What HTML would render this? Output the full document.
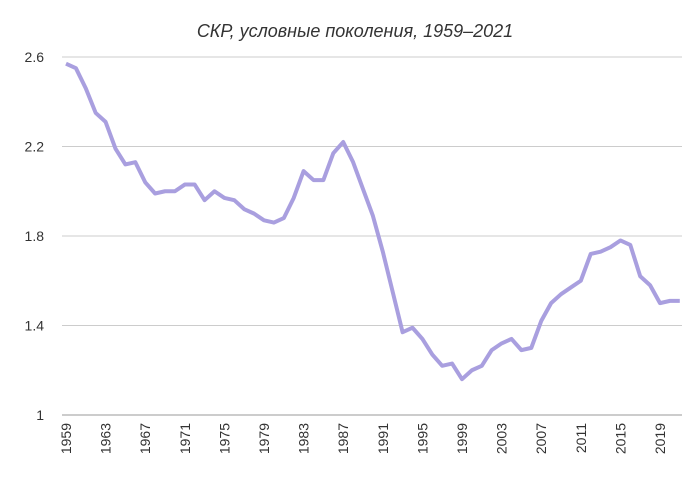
<!DOCTYPE html>
<html><head><meta charset="utf-8"><style>
body{margin:0;background:#fff;font-family:"Liberation Sans",sans-serif}
svg text{font-family:"Liberation Sans",sans-serif;fill:#333}
</style></head><body>
<svg id="c" width="700" height="485">
<text x="355" y="37" text-anchor="middle" font-size="18" font-style="italic">СКР, условные поколения, 1959–2021</text>
<g id="grid"></g><g id="yl"></g><g id="xl"></g><g id="ln"></g>
</svg>
<script>
const years=[];for(let y=1959;y<=2021;y++)years.push(y);
const values=[2.57,2.55,2.46,2.35,2.31,2.19,2.12,2.13,2.04,1.99,2.00,2.00,2.03,2.03,1.96,2.00,1.97,1.96,1.92,1.90,1.87,1.86,1.88,1.97,2.09,2.05,2.05,2.17,2.22,2.13,2.01,1.89,1.73,1.55,1.37,1.39,1.34,1.27,1.22,1.23,1.16,1.20,1.22,1.29,1.32,1.34,1.29,1.30,1.42,1.50,1.54,1.57,1.60,1.72,1.73,1.75,1.78,1.76,1.62,1.58,1.50,1.51,1.51];
const yTicks=[1,1.4,1.8,2.2,2.6];
const yTickLabels=["1","1.4","1.8","2.2","2.6"];
const xTicks=[1959,1963,1967,1971,1975,1979,1983,1987,1991,1995,1999,2003,2007,2011,2015,2019];
const NS="http://www.w3.org/2000/svg";
const X=y=>66+(y-1959)*9.9;
const Y=v=>415-(v-1)/1.6*358;
function mk(p,t,a){const e=document.createElementNS(NS,t);for(const k in a)e.setAttribute(k,a[k]);document.getElementById(p).appendChild(e);return e;}
yTicks.forEach((v,i)=>{
 const l=mk('grid','line',{x1:62,x2:682,y1:Y(v),y2:Y(v),stroke:i==0?'#999':'#ccc','stroke-width':1});
 
 
 const t=mk('yl','text',{x:44,y:Y(v)+5,'text-anchor':'end','font-size':14});
 t.textContent=yTickLabels[i];
 
 
});
xTicks.forEach(y=>{
 const t=mk('xl','text',{transform:`translate(${X(y)+5},${423}) rotate(-90)`,'text-anchor':'end','font-size':14});
 t.textContent=y;
 
 
});
const p=mk('ln','polyline',{points:years.map((y,i)=>X(y)+','+Y(values[i])).join(' '),fill:'none',stroke:'#a99fdf','stroke-width':4,'stroke-linejoin':'round'});


</script>
</body></html>
